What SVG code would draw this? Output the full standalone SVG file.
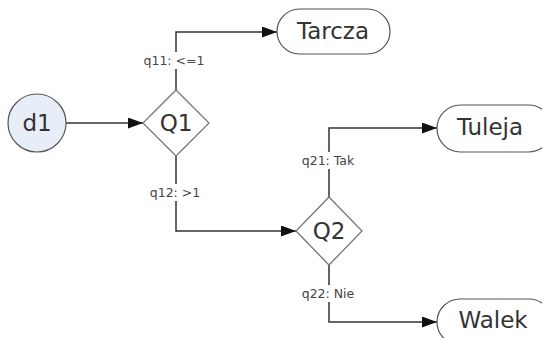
<svg xmlns="http://www.w3.org/2000/svg" width="542" height="338" viewBox="0 0 542 338">
  <defs>
    <marker id="arrow" viewBox="0 0 15 11" refX="15" refY="5.5" markerWidth="15" markerHeight="11" markerUnits="userSpaceOnUse" orient="auto">
      <path d="M0,0 L15,5.5 L0,11 Z" fill="#111"/>
    </marker>
    <style>
      .conn { fill: none; stroke: #333; stroke-width: 1.5; }
      .node { fill: #fff; stroke: #555; stroke-width: 1.2; }
      .start { fill: #e8eef8; stroke: #555; stroke-width: 1.2; }
      .dec { fill: #fff; stroke: #777; stroke-width: 1.3; }
      .ntext { font-family: "DejaVu Sans", Verdana, sans-serif; font-size: 23px; fill: #333; text-anchor: middle; dominant-baseline: central; }
      .ltext { font-family: "DejaVu Sans", Verdana, sans-serif; font-size: 12.5px; fill: #444; text-anchor: middle; dominant-baseline: central; }
      .lbg { fill: #fff; }
    </style>
  </defs>
  <rect x="0" y="0" width="542" height="338" fill="#fff"/>

  <g id="connectors">
    <line class="conn" x1="66" y1="123" x2="143" y2="123" marker-end="url(#arrow)"/>
    <path class="conn" d="M176,90 V32 H277" marker-end="url(#arrow)"/>
    <path class="conn" d="M176,156 V231 H296" marker-end="url(#arrow)"/>
    <path class="conn" d="M329,197 V128 H437" marker-end="url(#arrow)"/>
    <path class="conn" d="M329,265 V322 H437" marker-end="url(#arrow)"/>
    <g id="label-q11">
      <rect class="lbg" x="140" y="52" width="68" height="17"/>
      <text class="ltext" x="174" y="60">q11: &lt;=1</text>
    </g>
    <g id="label-q12">
      <rect class="lbg" x="146" y="184" width="58" height="17"/>
      <text class="ltext" x="175" y="192">q12: &gt;1</text>
    </g>
    <g id="label-q21">
      <rect class="lbg" x="296" y="152" width="64" height="17"/>
      <text class="ltext" x="328" y="160">q21: Tak</text>
    </g>
    <g id="label-q22">
      <rect class="lbg" x="295" y="285" width="66" height="17"/>
      <text class="ltext" x="328" y="293">q22: Nie</text>
    </g>
  </g>

  <g id="d1">
    <circle class="start" cx="37" cy="123" r="29"/>
    <text class="ntext" x="37" y="123">d1</text>
  </g>

  <g id="Q1">
    <polygon class="dec" points="176,90 209,123 176,156 143,123"/>
    <text class="ntext" x="176" y="123">Q1</text>
  </g>

  <g id="Q2">
    <polygon class="dec" points="329,197 362,231 329,265 296,231"/>
    <text class="ntext" x="329" y="231">Q2</text>
  </g>

  <g id="Tarcza">
    <rect class="node" x="277" y="9" width="113" height="45" rx="22.5" ry="22.5"/>
    <text class="ntext" x="333" y="31">Tarcza</text>
  </g>

  <g id="Tuleja">
    <rect class="node" x="437" y="105" width="115" height="47" rx="23.5" ry="23.5"/>
    <text class="ntext" x="490" y="127">Tuleja</text>
  </g>

  <g id="Walek">
    <rect class="node" x="437" y="299" width="115" height="46" rx="23" ry="23"/>
    <text class="ntext" x="493" y="320">Walek</text>
  </g>
</svg>
